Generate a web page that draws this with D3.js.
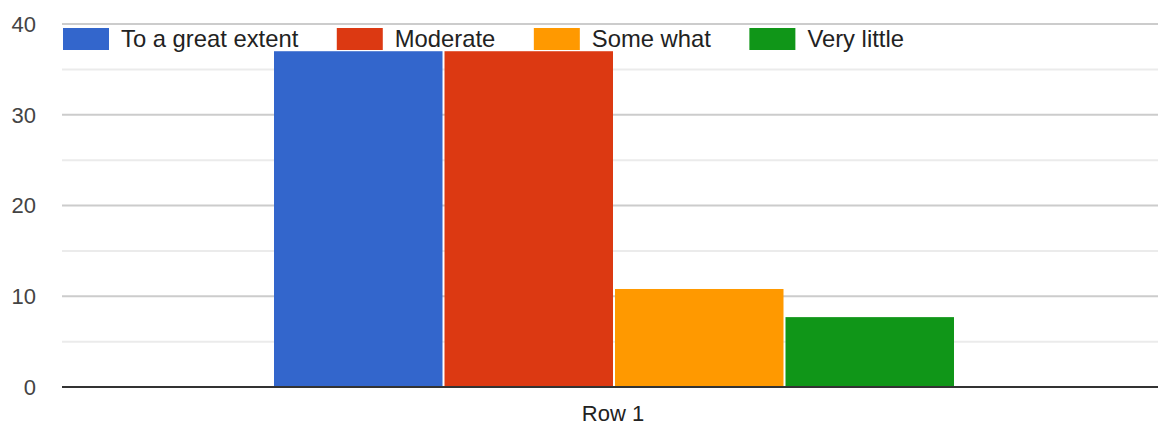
<!DOCTYPE html>
<html><head><meta charset="utf-8">
<script src="https://cdn.jsdelivr.net/npm/d3@7"></script>
<style>body{margin:0;background:#fff}svg{display:block}text{font-family:"Liberation Sans",Arial,sans-serif}</style>
</head><body><svg id="c" width="1158" height="426"></svg>
<script>
const categories = ["Row 1"];
const seriesNames = ["To a great extent", "Moderate", "Some what", "Very little"];
const seriesValues = [37, 37, 10.8, 7.7];
const seriesColors = ["#3366cc", "#dc3912", "#ff9900", "#109618"];
const majorTicks = [0, 10, 20, 30, 40];
const minorTicks = [5, 15, 25, 35];

(function () {
const svg = d3.select("#c");
const pLeft = 62, pTop = 24, pBottom = 387;
const y = d3.scaleLinear().domain([0, 40]).range([pBottom, pTop]);
const x0 = d3.scaleBand().domain(categories).range([63, 1167]).paddingInner(0).paddingOuter(0.3094);
const x1 = d3.scaleBand().domain(seriesNames).range([0, x0.bandwidth()]);

// gridlines
svg.append("g").selectAll("line").data(minorTicks).join("line")
  .attr("x1", pLeft).attr("x2", 1158).attr("y1", d => y(d)).attr("y2", d => y(d))
  .attr("stroke", "#ebebeb").attr("stroke-width", 2);
svg.append("g").selectAll("line").data(majorTicks.filter(d => d !== 0)).join("line")
  .attr("x1", pLeft).attr("x2", 1158).attr("y1", d => y(d)).attr("y2", d => y(d))
  .attr("stroke", "#cccccc").attr("stroke-width", 2);

// y labels
svg.append("g").selectAll("text").data(majorTicks).join("text")
  .attr("x", 36).attr("y", d => y(d)).attr("dy", "0.36em").attr("text-anchor", "end")
  .attr("font-size", 22).attr("fill", "#444").text(d => d);

// bars
const g = svg.append("g").attr("transform", `translate(${x0(categories[0])},0)`);
g.selectAll("rect").data(seriesNames.map((n, i) => ({n, v: seriesValues[i], c: seriesColors[i]}))).join("rect")
  .attr("x", d => x1(d.n)).attr("width", x1.bandwidth() - 2)
  .attr("y", d => y(d.v)).attr("height", d => y(0) - y(d.v)).attr("fill", d => d.c);

// baseline
svg.append("line").attr("x1", pLeft).attr("x2", 1158).attr("y1", y(0)).attr("y2", y(0))
  .attr("stroke", "#333").attr("stroke-width", 2);

// x label
svg.append("g").selectAll("text").data(categories).join("text")
  .attr("x", d => x0(d) + x0.bandwidth() / 2 - 2).attr("y", 421).attr("text-anchor", "middle")
  .attr("font-size", 22).attr("fill", "#222").text(d => d);

// legend
const lg = svg.append("g");
let lx = 63;
seriesNames.forEach((n, i) => {
  lg.append("rect").attr("x", lx).attr("y", 28).attr("width", 46).attr("height", 22)
    .attr("fill", seriesColors[i]).attr("stroke", "#fff").attr("stroke-width", 2).attr("paint-order", "stroke");
  const t = lg.append("text").attr("x", lx + 58).attr("y", 47).attr("font-size", 23.8).attr("fill", "#222").text(n);
  lx += 58 + t.node().getComputedTextLength() + 38.5;
});
})();
</script></body></html>
